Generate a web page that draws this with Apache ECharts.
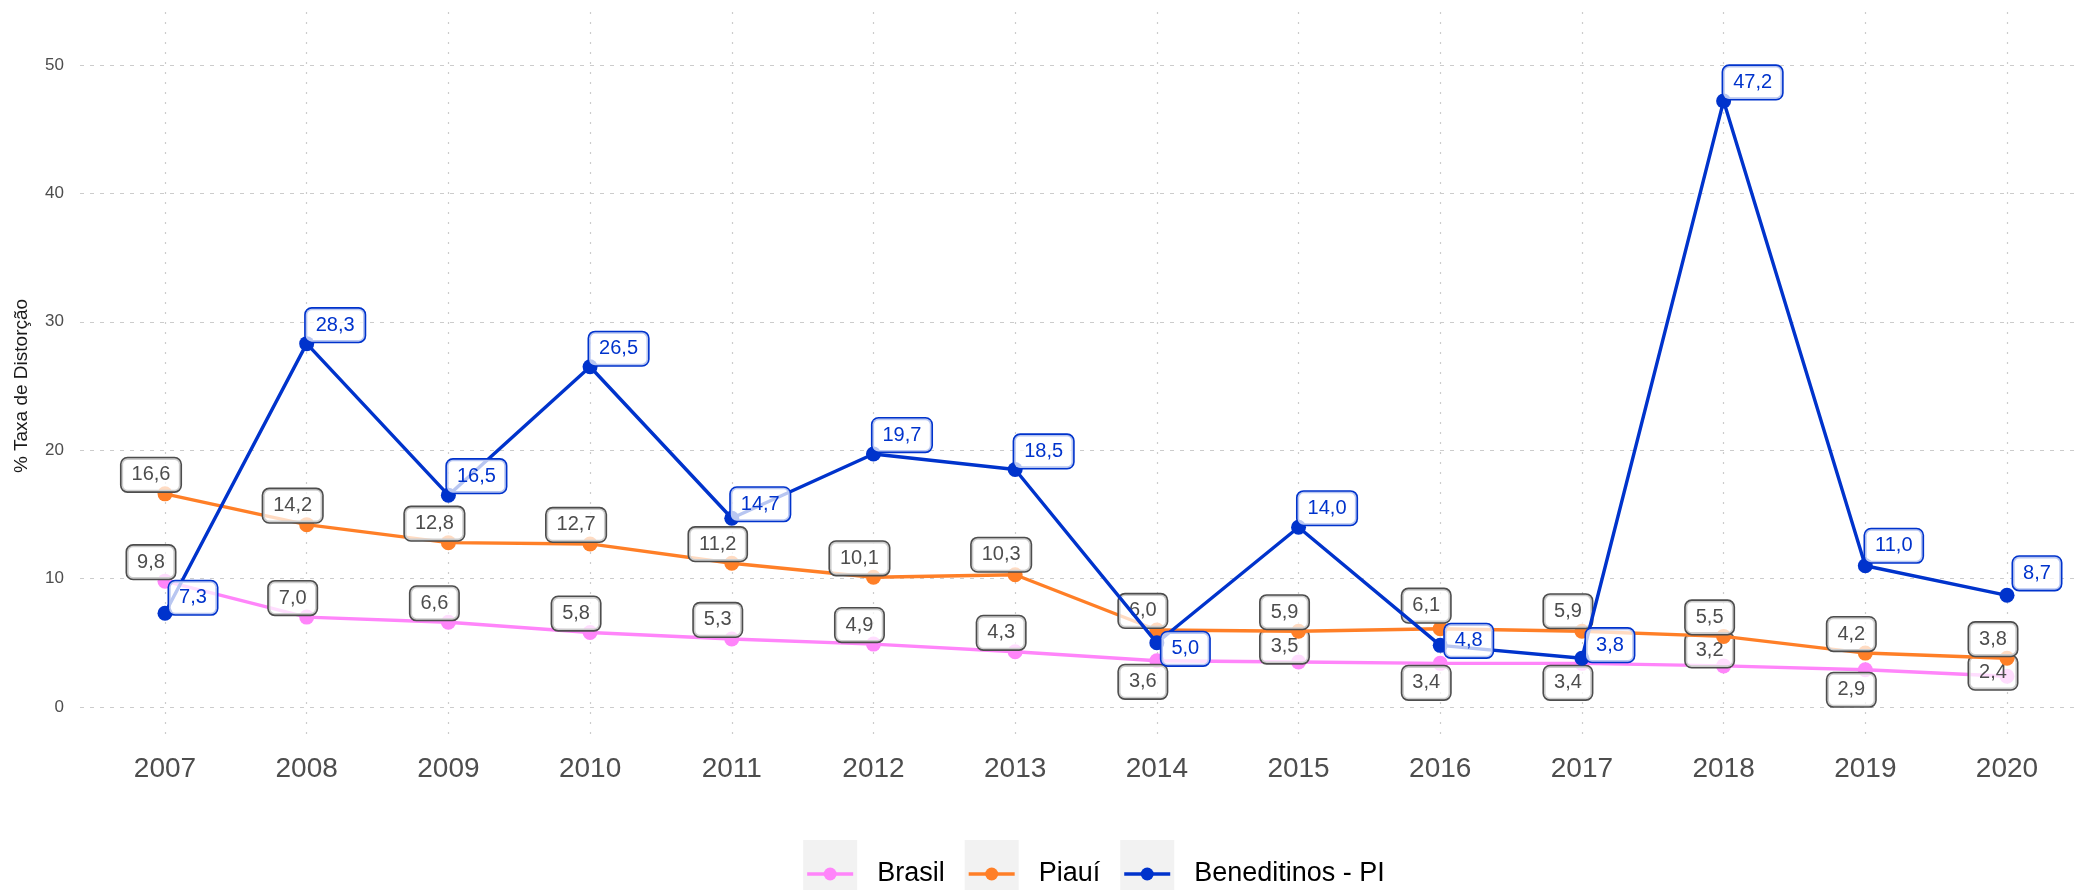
<!DOCTYPE html>
<html>
<head>
<meta charset="utf-8">
<script src="https://cdn.jsdelivr.net/npm/echarts@6/dist/echarts.min.js"></script>
<style>
  html, body { margin: 0; padding: 0; background: #ffffff; }
  #chart { width: 2080px; height: 890px; }
</style>
</head>
<body>
<div id="chart"></div>
<script>
// Taxa de distorção idade-série (%), 2007–2020
const years = [2007, 2008, 2009, 2010, 2011, 2012, 2013, 2014, 2015, 2016, 2017, 2018, 2019, 2020];
const brasil = [9.8, 7.0, 6.6, 5.8, 5.3, 4.9, 4.3, 3.6, 3.5, 3.4, 3.4, 3.2, 2.9, 2.4];
const piaui = [16.6, 14.2, 12.8, 12.7, 11.2, 10.1, 10.3, 6.0, 5.9, 6.1, 5.9, 5.5, 4.2, 3.8];
const beneditinos = [7.3, 28.3, 16.5, 26.5, 14.7, 19.7, 18.5, 5.0, 14.0, 4.8, 3.8, 47.2, 11.0, 8.7];
const yTicks = [0, 10, 20, 30, 40, 50];
const seriesNames = ['Brasil', 'Piauí', 'Beneditinos - PI'];
const seriesColors = ['#FF85FA', '#FF7F27', '#0033CC'];

// Where each value box sits relative to its point (pixels), so the boxes don't pile up
const brasilLabelShift = [[-14, -19], [-14, -19], [-14, -19], [-14, -19], [-14, -19], [-14, -19], [-14, -19],
  [-14, 21], [-14, -15.5], [-14, 19.5], [-14, 19.5], [-14, -15.5], [-14, 20], [-14, -3.5]];
const piauiLabelShift = [[-14, -19], [-14, -19], [-14, -19], [-14, -19], [-14, -19], [-14, -19], [-14, -20],
  [-14, -19], [-14, -19], [-14, -23], [-14, -20], [-14, -19], [-14, -19], [-14, -19]];
const beneditinosLabelShift = [[28, -15.5], [28.5, -18.5], [28, -19], [28.5, -18], [28.5, -14], [28.5, -19], [28.5, -18],
  [28.5, 6], [28.5, -19], [28.5, -4.5], [28, -13], [29, -18.5], [28.5, -20], [30, -22]];

const FONT = '"Liberation Sans", Arial, Helvetica, sans-serif';
const fmt = v => v.toFixed(1).replace('.', ',');

function boxLabel(textColor, borderColor) {
  return {
    show: true,
    position: 'inside',
    formatter: p => fmt(p.value[1]),
    fontFamily: FONT,
    fontSize: 20,
    lineHeight: 23,
    color: textColor,
    backgroundColor: 'rgba(255,255,255,0.72)',
    borderColor: borderColor,
    borderWidth: 1.6,
    borderRadius: 6,
    padding: [5, 10]
  };
}

function lineSeries(idx, values, shifts, textColor, borderColor) {
  return {
    name: seriesNames[idx],
    type: 'line',
    xAxisIndex: 2,
    yAxisIndex: 2,
    clip: false,
    symbol: 'circle',
    symbolSize: 15,
    showAllSymbol: true,
    lineStyle: { width: 3.4, color: seriesColors[idx] },
    itemStyle: { color: seriesColors[idx] },
    label: boxLabel(textColor, borderColor),
    emphasis: { disabled: true },
    data: values.map((v, i) => ({ value: [years[i], v], label: { offset: shifts[i] } })),
    z: 2 + idx
  };
}

// Legend: grey key tiles with a line-and-dot glyph, followed by the series name
function legendGraphics() {
  const ctx = document.createElement('canvas').getContext('2d');
  const fontSize = 27;
  ctx.font = fontSize + 'px ' + FONT;
  const keyW = 54, keyGap = 20, itemGap = 20;
  const widths = seriesNames.map(n => ctx.measureText(n).width);
  const total = widths.reduce((s, w) => s + keyW + keyGap + w, 0) + itemGap * (seriesNames.length - 1);
  let x = 1094 - total / 2;
  const cy = 874;
  const els = [];
  seriesNames.forEach((name, i) => {
    els.push({ type: 'rect', shape: { x: x, y: 840, width: keyW, height: 60 }, style: { fill: '#F2F2F2' }, silent: true });
    els.push({ type: 'line', shape: { x1: x + 4, y1: cy, x2: x + keyW - 4, y2: cy }, style: { stroke: seriesColors[i], lineWidth: 3.4 }, silent: true });
    els.push({ type: 'circle', shape: { cx: x + keyW / 2, cy: cy, r: 6.5 }, style: { fill: seriesColors[i] }, silent: true });
    els.push({ type: 'text', x: x + keyW + keyGap, y: cy, style: { text: name, font: fontSize + 'px ' + FONT, fill: '#000000', verticalAlign: 'middle', align: 'left' }, silent: true });
    x += keyW + keyGap + widths[i] + itemGap;
  });
  return els;
}

const chart = echarts.init(document.getElementById('chart'), null, { renderer: 'canvas' });
chart.setOption({
  animation: false,
  backgroundColor: '#ffffff',
  textStyle: { fontFamily: FONT },
  grid: [
    { left: 165, right: 73, top: 12, bottom: 150 },   // vertical grid lines + year labels
    { left: 80, right: 0, top: 65, bottom: 183 },     // horizontal grid lines + value labels
    { left: 165, right: 73, top: 65, bottom: 183 }    // data
  ],
  xAxis: [
    {
      gridIndex: 0, type: 'value', min: years[0], max: years[years.length - 1], interval: 1,
      axisLine: { show: false }, axisTick: { show: false },
      splitLine: { show: true, lineStyle: { color: '#CCCCCC', width: 1.2, type: [2, 8] } },
      axisLabel: { formatter: v => String(v), fontSize: 28, color: '#4D4D4D', margin: 15, fontFamily: FONT }
    },
    { gridIndex: 1, type: 'value', min: 0, max: 1, show: false },
    { gridIndex: 2, type: 'value', min: years[0], max: years[years.length - 1], show: false }
  ],
  yAxis: [
    { gridIndex: 0, type: 'value', min: 0, max: 1, show: false },
    {
      gridIndex: 1, type: 'value', min: yTicks[0], max: yTicks[yTicks.length - 1], interval: 10,
      axisLine: { show: false }, axisTick: { show: false },
      splitLine: { show: true, lineStyle: { color: '#CCCCCC', width: 1.2, type: [4, 6] } },
      axisLabel: { fontSize: 17, color: '#4D4D4D', margin: 16, fontFamily: FONT },
      name: '% Taxa de Distorção', nameLocation: 'middle', nameRotate: 90, nameGap: 49,
      nameTextStyle: { fontSize: 19, color: '#1A1A1A', fontFamily: FONT }
    },
    { gridIndex: 2, type: 'value', min: yTicks[0], max: yTicks[yTicks.length - 1], show: false }
  ],
  series: [
    lineSeries(0, brasil, brasilLabelShift, '#4D4D4D', '#4D4D4D'),
    lineSeries(1, piaui, piauiLabelShift, '#4D4D4D', '#4D4D4D'),
    lineSeries(2, beneditinos, beneditinosLabelShift, '#0033CC', '#0033CC')
  ],
  graphic: legendGraphics()
});
</script>
</body>
</html>
